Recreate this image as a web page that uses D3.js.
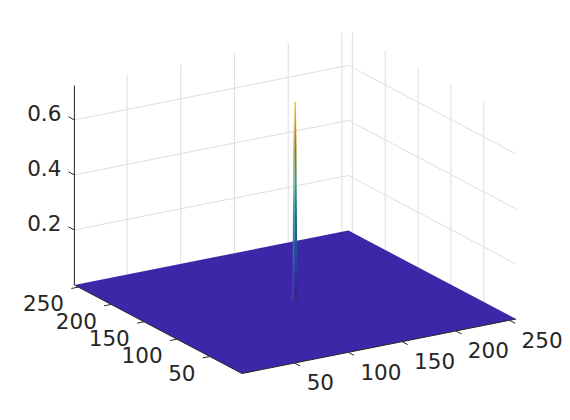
<!DOCTYPE html>
<html>
<head>
<meta charset="utf-8">
<script src="https://cdn.jsdelivr.net/npm/d3@7"></script>
<style>
  html, body { margin: 0; padding: 0; background: #fff; }
  text { font-family: "DejaVu Sans", sans-serif; font-size: 21.5px; fill: #262626; }
</style>
</head>
<body>
<svg id="chart" width="570" height="420"></svg>
<script>
// values
const xTicks = [50, 100, 150, 200, 250];
const yTicks = [50, 100, 150, 200, 250];
const zTicks = [0.2, 0.4, 0.6];
const xLimits = [1, 256];
const yLimits = [1, 256];
const zLimits = [0, 0.725];

// the spike: height and half width (in grid cells) going up from the floor
const peakX = 131;
const peakY = 133;
const peakZ = [0, 0.008, 0.02, 0.05, 0.1, 0.21, 0.36, 0.54, 0.65, 0.72];
const peakHalfWidth = [3.0, 2.3, 1.8, 1.5, 1.35, 1.25, 1.1, 0.9, 0.72, 0.55];
const meshLevels = [0.004, 0.012, 0.024];
const meshWidths = [2.7, 2.1, 1.7];

// colours along the spike, evenly from low to high
const colormapStops = ["#3e26a8", "#3c36b4", "#3350b8", "#2a66b0", "#1c7ca6",
  "#1a8fa0", "#2fa5a2", "#62bb9c", "#7fb060", "#a8962a", "#dca03c", "#f2d45a", "#fdf56e"];

const svg = d3.select("#chart");

// oblique view: each data axis adds its own screen offset
const front = { x: 242, y: 373.5 };
const xToPx = d3.scaleLinear().domain(xLimits).range([0, 274]);
const xToPy = d3.scaleLinear().domain(xLimits).range([0, -54.5]);
const yToPx = d3.scaleLinear().domain(yLimits).range([0, -167.6]);
const yToPy = d3.scaleLinear().domain(yLimits).range([0, -88.5]);
const zToPy = d3.scaleLinear().domain(zLimits).range([0, -199.5]);

const project = (x, y, z) => [
  front.x + xToPx(x) + yToPx(y),
  front.y + xToPy(x) + yToPy(y) + zToPy(z)
];
const line = d3.line();

const [xMin, xMax] = xLimits;
const [yMin, yMax] = yLimits;
const [zMin, zMax] = zLimits;

// back wall grid
const grid = svg.append("g")
    .attr("fill", "none")
    .attr("stroke", "#dedede")
    .attr("stroke-width", 1);

xTicks.forEach(v => grid.append("path")
    .attr("d", line([project(v, yMax, zMin), project(v, yMax, zMax)])));
yTicks.forEach(v => grid.append("path")
    .attr("d", line([project(xMax, v, zMin), project(xMax, v, zMax)])));
zTicks.forEach(v => grid.append("path")
    .attr("d", line([project(xMin, yMax, v), project(xMax, yMax, v), project(xMax, yMin, v)])));

// floor of the surface
const colour = d3.scaleLinear()
    .domain(colormapStops.map((c, i) => i / (colormapStops.length - 1)))
    .range(colormapStops);

svg.append("path")
    .attr("d", line([
      project(xMin, yMin, 0), project(xMax, yMin, 0),
      project(xMax, yMax, 0), project(xMin, yMax, 0)
    ]) + "Z")
    .attr("fill", colormapStops[0]);

// axis lines and ticks
const axes = svg.append("g")
    .attr("fill", "none")
    .attr("stroke", "#262626")
    .attr("stroke-width", 1);

axes.append("path").attr("d", line([project(xMin, yMax, zMin), project(xMin, yMax, zMax)]));
axes.append("path").attr("d", line([project(xMin, yMax, 0), project(xMin, yMin, 0), project(xMax, yMin, 0)]));

xTicks.forEach(v => axes.append("path")
    .attr("d", line([project(v, yMin, 0), project(v, yMin - 8.5, 0)])));
yTicks.forEach(v => axes.append("path")
    .attr("d", line([project(xMin, v, 0), project(xMin - 6.5, v, 0)])));
zTicks.forEach(v => axes.append("path")
    .attr("d", line([project(xMin, yMax, v), project(xMin, yMax + 9, v)])));

// tick labels
const labels = svg.append("g");
xTicks.forEach(v => {
  const [px, py] = project(v, yMin, 0);
  labels.append("text").attr("x", px + 12).attr("y", py + 19.5).attr("dy", "0.365em").text(v);
});
yTicks.forEach(v => {
  const [px, py] = project(xMin, v, 0);
  labels.append("text").attr("x", px - 14.3).attr("y", py + 16.3).attr("dy", "0.365em")
      .attr("text-anchor", "end").text(v);
});
zTicks.forEach(v => {
  const [px, py] = project(xMin, yMax, v);
  labels.append("text").attr("x", px - 13).attr("y", py - 7).attr("dy", "0.365em")
      .attr("text-anchor", "end").text(v);
});

// spike, two faces seen from the front corner, coloured by height
const defs = svg.append("defs");
const peakTop = d3.max(peakZ);
const addGradient = (id, shade) => {
  const g = defs.append("linearGradient")
      .attr("id", id)
      .attr("gradientUnits", "userSpaceOnUse")
      .attr("x1", 0).attr("x2", 0)
      .attr("y1", project(peakX, peakY, 0)[1])
      .attr("y2", project(peakX, peakY, peakTop)[1]);
  colormapStops.forEach((c, i) => {
    const t = i / (colormapStops.length - 1);
    g.append("stop").attr("offset", t).attr("stop-color", shade(d3.color(colour(t))));
  });
};
addGradient("faceLeft", c => c.brighter(0.25));
addGradient("faceRight", c => c.darker(0.6));

const faceLeft = peakZ.map((z, i) => project(peakX - peakHalfWidth[i], peakY + peakHalfWidth[i], z))
    .concat(peakZ.map((z, i) => project(peakX - peakHalfWidth[i], peakY - peakHalfWidth[i], z)).reverse());
const faceRight = peakZ.map((z, i) => project(peakX - peakHalfWidth[i], peakY - peakHalfWidth[i], z))
    .concat(peakZ.map((z, i) => project(peakX + peakHalfWidth[i], peakY - peakHalfWidth[i], z)).reverse());

svg.append("path").attr("d", line(faceLeft) + "Z").attr("fill", "url(#faceLeft)");
svg.append("path").attr("d", line(faceRight) + "Z").attr("fill", "url(#faceRight)");

// faint mesh where the spike meets the floor
svg.append("g")
    .attr("fill", "none")
    .attr("stroke", "#a9a6e6")
    .attr("stroke-width", 0.5)
    .attr("stroke-opacity", 0.55)
    .attr("stroke-dasharray", "1 1")
  .selectAll("path")
  .data(meshLevels)
  .join("path")
    .attr("d", (z, i) => {
      const w = meshWidths[i];
      return line([
        project(peakX - w, peakY + w, z),
        project(peakX - w, peakY - w, z),
        project(peakX + w, peakY - w, z)
      ]);
    });
</script>
</body>
</html>
